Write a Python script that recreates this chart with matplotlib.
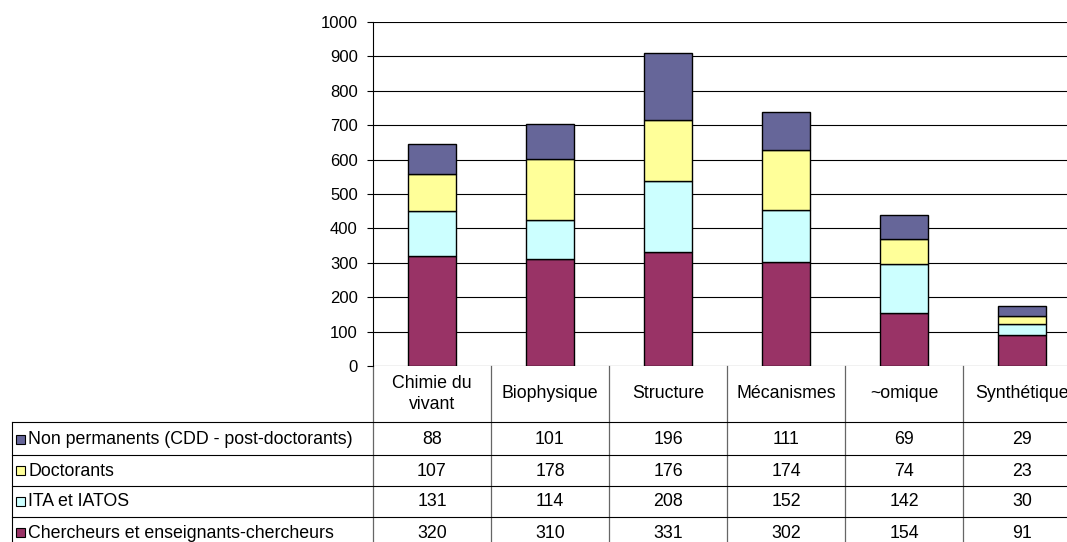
import matplotlib.pyplot as plt
from matplotlib.lines import Line2D
from matplotlib.patches import Rectangle
from matplotlib.transforms import blended_transform_factory
import numpy as np

plt.rcParams['font.family'] = ['Liberation Sans', 'DejaVu Sans']

categories = ["Chimie du\nvivant", "Biophysique", "Structure", "Mécanismes", "~omique", "Synthétique"]
chercheurs = [320, 310, 331, 302, 154, 91]
ita = [131, 114, 208, 152, 142, 30]
doctorants = [107, 178, 176, 174, 74, 23]
non_permanents = [88, 101, 196, 111, 69, 29]

series = [
    ("Chercheurs et enseignants-chercheurs", chercheurs, "#993366"),
    ("ITA et IATOS", ita, "#CCFFFF"),
    ("Doctorants", doctorants, "#FFFF99"),
    ("Non permanents (CDD - post-doctorants)", non_permanents, "#666699"),
]

W, H = 1067, 542
fig = plt.figure(figsize=(W / 100, H / 100), dpi=100)

# plot area in pixels (left, top of 1000, right, zero line)
x0, y_top, x1, y_zero = 373, 22, 1081, 366
ax = fig.add_axes([x0 / W, 1 - y_zero / H, (x1 - x0) / W, (y_zero - y_top) / H])

x = np.arange(len(categories))
bottom = np.zeros(len(categories))
for name, vals, col in series:
    ax.bar(x, vals, width=0.41, bottom=bottom, color=col, edgecolor="black", linewidth=1.0, zorder=3)
    bottom += np.array(vals)

ax.set_xlim(-0.5, len(categories) - 0.5)
ax.set_ylim(0, 1000)
ax.set_yticks(range(0, 1001, 100))
ax.yaxis.grid(True, color="black", linewidth=0.8)
ax.set_axisbelow(True)
ax.set_xticks([])
for s in ["top", "right", "bottom"]:
    ax.spines[s].set_visible(False)
ax.spines["left"].set_linewidth(0.8)
ax.tick_params(axis="y", length=4.5, width=0.8, pad=6.5, labelsize=12)

FS = 12.8


def fy(py):
    return 1 - py / H


def fx(px):
    return px / W


# data table under the chart
tr = blended_transform_factory(ax.transData, fig.transFigure)
row_lines = [422, 455, 486, 517]
row_centers = [439.5, 471, 502, 533]
table_left = 12

for py in row_lines:
    fig.add_artist(Line2D([fx(table_left), 1], [fy(py), fy(py)], color="black", linewidth=0.8))
fig.add_artist(Line2D([fx(table_left), fx(table_left)], [fy(422), 0], color="black", linewidth=0.8))
for i in range(len(categories) + 1):
    ax.add_artist(Line2D([i - 0.5, i - 0.5], [fy(y_zero), 0], color="#666666", linewidth=0.9,
                         transform=tr, clip_on=False))

for i, cat in enumerate(categories):
    ax.text(i, fy(394), cat, transform=tr, ha="center", va="center", fontsize=FS,
            linespacing=1.35)

for (name, vals, col), yc in zip(series[::-1], row_centers):
    fig.add_artist(Rectangle((fx(15.5), fy(yc + 4)), 9 / W, 9 / H, facecolor=col,
                             edgecolor="black", linewidth=0.8, transform=fig.transFigure))
    fig.text(fx(28), fy(yc), name, ha="left", va="center", fontsize=FS)
    for i, v in enumerate(vals):
        ax.text(i, fy(yc), str(v), transform=tr, ha="center", va="center", fontsize=FS)

fig.savefig("out.png", dpi=100)
